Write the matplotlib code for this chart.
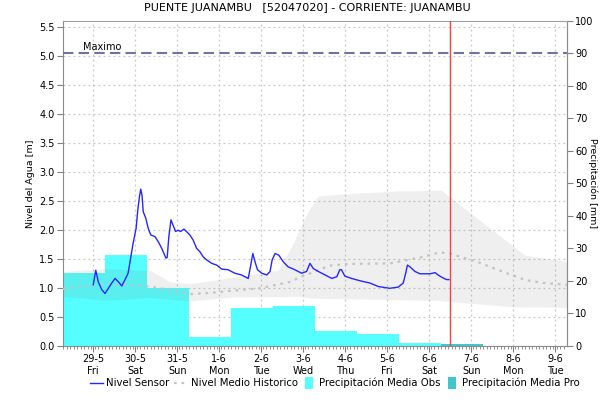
import matplotlib
matplotlib.use("Agg")
import matplotlib.pyplot as plt
from matplotlib.lines import Line2D
import numpy as np

# dias desde 29-5 00:00
day_labels = ["29-5\nFri", "30-5\nSat", "31-5\nSun", "1-6\nMon", "2-6\nTue", "3-6\nWed",
              "4-6\nThu", "5-6\nFri", "6-6\nSat", "7-6\nSun", "8-6\nMon", "9-6\nTue"]

# nivel sensor [m]
sensor_t = [0.0, 0.06, 0.12, 0.2, 0.28, 0.36, 0.44, 0.52, 0.6, 0.68, 0.75, 0.83, 0.89, 0.95,
            1.02, 1.06, 1.1, 1.13, 1.16, 1.19, 1.25, 1.31, 1.37, 1.47, 1.55, 1.63, 1.73, 1.76,
            1.8, 1.85, 1.9, 1.96, 2.02, 2.08, 2.16, 2.26, 2.3, 2.38, 2.46, 2.54, 2.62, 2.7,
            2.82, 2.94, 3.06, 3.21, 3.37, 3.53, 3.69, 3.73, 3.8, 3.85, 3.91, 4.01, 4.13, 4.21,
            4.26, 4.33, 4.42, 4.52, 4.64, 4.8, 4.96, 5.08, 5.16, 5.24, 5.36, 5.52, 5.68, 5.8,
            5.87, 5.91, 5.99, 6.15, 6.35, 6.59, 6.79, 7.06, 7.26, 7.38, 7.44, 7.48, 7.54, 7.66,
            7.78, 8.02, 8.14, 8.21, 8.3, 8.41, 8.47]
sensor_v = [1.05, 1.30, 1.10, 0.97, 0.90, 0.99, 1.08, 1.16, 1.10, 1.03, 1.13, 1.25, 1.51, 1.77,
            2.02, 2.34, 2.57, 2.70, 2.60, 2.31, 2.20, 2.02, 1.91, 1.88, 1.79, 1.68, 1.51, 1.52,
            1.88, 2.17, 2.08, 1.97, 1.99, 1.97, 2.01, 1.94, 1.91, 1.82, 1.68, 1.62, 1.53, 1.48,
            1.42, 1.39, 1.32, 1.31, 1.25, 1.22, 1.16, 1.31, 1.59, 1.45, 1.31, 1.25, 1.22, 1.28,
            1.48, 1.59, 1.56, 1.45, 1.36, 1.31, 1.25, 1.28, 1.42, 1.33, 1.28, 1.22, 1.16, 1.19,
            1.31, 1.31, 1.20, 1.16, 1.12, 1.08, 1.02, 0.99, 1.01, 1.08, 1.25, 1.39, 1.36, 1.28,
            1.24, 1.24, 1.26, 1.22, 1.18, 1.14, 1.14]

# nivel medio historico [m]
mean_t = [-0.72, -0.2, 0.28, 0.87, 1.35, 1.83, 2.3, 2.78, 3.33, 3.97, 4.68, 4.92, 5.35, 5.63,
          6.1, 7.07, 7.78, 8.25, 8.49, 9.2, 9.92, 10.3, 10.75, 11.28]
mean_v = [0.98, 1.03, 1.06, 1.05, 1.02, 0.96, 0.89, 0.91, 0.95, 0.99, 1.10, 1.18, 1.30, 1.38,
          1.41, 1.42, 1.52, 1.61, 1.59, 1.43, 1.23, 1.13, 1.08, 1.05]

# banda historica (max / min) [m]
upper_t = [-0.72, 0.28, 1.35, 1.83, 2.3, 3.33, 4.4, 4.75, 5.1, 5.35, 5.99, 7.3, 8.28, 10.28, 11.28]
upper_v = [1.28, 1.33, 1.30, 1.10, 1.07, 1.18, 1.30, 1.75, 2.30, 2.58, 2.62, 2.67, 2.68, 1.56, 1.45]
lower_t = [-0.72, 0.3, 1.35, 2.3, 3.3, 4.9, 5.2, 8.2, 9.0, 10.0, 11.28]
lower_v = [0.85, 0.78, 0.83, 0.77, 0.84, 0.85, 0.82, 0.78, 0.73, 0.67, 0.66]

# precipitacion diaria [mm]
precip_start = [-0.72, 0.28, 1.28, 2.28, 3.28, 4.28, 5.28, 6.28, 7.28]
precip_obs = [22.3, 28.0, 17.7, 2.7, 11.6, 12.2, 4.6, 3.6, 0.9]
pro_start = [8.28]
precip_pro = [0.5]

nivel_max = 5.05
now_t = 8.49

LVL_MAX = 5.6
MM_MAX = 100.0


def mm_to_m(v):
    return np.asarray(v) * LVL_MAX / MM_MAX


def m_to_mm(v):
    return np.asarray(v) * MM_MAX / LVL_MAX


plt.rcParams["font.family"] = "DejaVu Sans"
fig = plt.figure(figsize=(6.03, 4.04), dpi=100)
ax = fig.add_axes([0.1045, 0.1443, 0.8358, 0.8039])

# barras de precipitacion (escala derecha)
ax.bar(precip_start, mm_to_m(precip_obs), width=1.0, align="edge", color="#55FFFF", zorder=2)
ax.bar(pro_start, mm_to_m(precip_pro), width=1.0, align="edge", color="#40C8C8", zorder=2)

# banda historica
tt = np.linspace(-0.72, 11.28, 400)
ax.fill_between(tt, np.interp(tt, lower_t, lower_v), np.interp(tt, upper_t, upper_v),
                color="#808080", alpha=0.12, linewidth=0, zorder=3)

ax.plot(mean_t, mean_v, color="#C4C4C4", lw=1.6, ls=(0, (1.2, 2.2)), zorder=4)
ax.plot(sensor_t, sensor_v, color="#2626FF", lw=1.0, zorder=5)

ax.axhline(nivel_max, color="#6B75A8", lw=1.5, ls=(0, (5, 2.5)), zorder=5)
ax.text(-0.25, nivel_max + 0.02, "Maximo", fontsize=7, va="bottom", ha="left", zorder=6)
ax.axvline(now_t, color="#FF4040", lw=1.0, zorder=6)

ax.set_xlim(-0.72, 11.28)
ax.set_ylim(0, LVL_MAX)
ax.set_xticks(range(len(day_labels)))
ax.set_xticklabels(day_labels, fontsize=7)
ax.set_xticks(np.arange(-0.72, 11.28, 1 / 12), minor=True)
ax.set_yticks(np.arange(0, 5.51, 0.5))
ax.set_yticklabels([f"{v:.1f}" for v in np.arange(0, 5.51, 0.5)], fontsize=7)
ax.tick_params(axis="both", which="major", length=4, color="#808080", pad=2)
ax.tick_params(axis="x", which="minor", length=2, color="#808080")
ax.grid(True, which="major", color="#C8C8C8", ls=(0, (1.5, 2.5)), lw=0.9, zorder=0)
ax.set_axisbelow(True)
for sp in ax.spines.values():
    sp.set_color("#8C8C8C")
ax.spines["top"].set_color("#A0A0A0")
ax.set_ylabel("Nivel del Agua [m]", fontsize=6.8, labelpad=3)

sec = ax.secondary_yaxis("right", functions=(m_to_mm, mm_to_m))
sec.set_yticks(np.arange(0, 101, 10))
sec.tick_params(labelsize=7, length=4, color="#808080", pad=2)
sec.spines["right"].set_color("#8C8C8C")
fig.text(0.983, 0.547, "Precipitación [mm]", fontsize=6.8, rotation=270,
         ha="center", va="center")

fig.suptitle("PUENTE JUANAMBU   [52047020] - CORRIENTE: JUANAMBU", fontsize=8, y=0.993,
             x=0.51)

box = [(-0.3, -0.5), (0.3, -0.5), (0.3, 0.5), (-0.3, 0.5)]
handles = [Line2D([], [], color="#2626FF", lw=1.0),
           Line2D([], [], color="#C4C4C4", lw=1.6, ls=(0, (1.2, 2.2))),
           Line2D([], [], ls="", marker=box, markersize=9, color="#55FFFF", markeredgewidth=0),
           Line2D([], [], ls="", marker=box, markersize=9, color="#40C8C8", markeredgewidth=0)]
labels = ["Nivel Sensor", "Nivel Medio Historico", "Precipitación Media Obs",
          "Precipitación Media Pro"]
fig.legend(handles, labels, loc="center", bbox_to_anchor=(0.555, 0.052), ncol=4, frameon=False,
           fontsize=7.3, handlelength=1.3, handletextpad=0.3, columnspacing=0.5)

fig.savefig("out.png", dpi=100)
